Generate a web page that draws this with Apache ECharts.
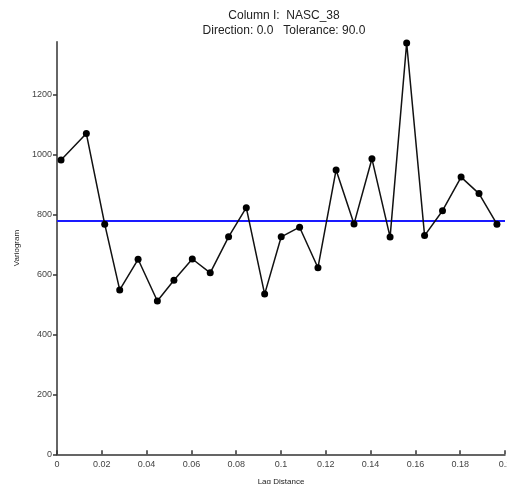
<!DOCTYPE html>
<html>
<head>
<meta charset="utf-8">
<script src="https://cdn.jsdelivr.net/npm/echarts@6/dist/echarts.min.js"></script>
<style>
  html, body { margin: 0; padding: 0; background: #fff; }
  #chart { width: 507px; height: 484px; }
</style>
</head>
<body>
<div id="chart"></div>
<script>
// Experimental variogram for NASC_38 (omnidirectional)
const lagDistance = [0.0018, 0.0131, 0.0213, 0.0280, 0.0362, 0.0448, 0.0522, 0.0604, 0.0684,
  0.0766, 0.0845, 0.0927, 0.1001, 0.1083, 0.1165, 0.1246, 0.1326, 0.1406, 0.1487, 0.1561,
  0.1641, 0.1721, 0.1804, 0.1884, 0.1964];
const variogram = [981, 1069, 767, 548, 650, 511, 580, 651, 605,
  725, 822, 534, 725, 757, 622, 948, 768, 985, 724, 1371,
  729, 812, 924, 869, 767];
const sill = 777;
const yTicks = [0, 200, 400, 600, 800, 1000, 1200];

const points = lagDistance.map((d, i) => [d, variogram[i]]);

const chart = echarts.init(document.getElementById('chart'), null, { renderer: 'canvas' });
chart.setOption({
  animation: false,
  backgroundColor: '#ffffff',
  title: {
    text: 'Column I:  NASC_38\nDirection: 0.0   Tolerance: 90.0',
    left: 279,
    top: 3,
    textAlign: 'center',
    textStyle: {
      fontFamily: 'Liberation Sans',
      fontSize: 12,
      fontWeight: 'normal',
      color: '#222',
      lineHeight: 15
    }
  },
  grid: { left: 57, right: 2, top: 41.8, bottom: 29.7, containLabel: false, outerBoundsMode: 'none' },
  xAxis: {
    type: 'value',
    min: 0,
    max: 0.2,
    interval: 0.02,
    name: 'Lag Distance',
    nameLocation: 'middle',
    nameGap: 23,
    nameTextStyle: { fontFamily: 'Liberation Sans', fontSize: 8, color: '#222' },
    splitLine: { show: false },
    axisLine: { show: true, lineStyle: { color: '#333', width: 1.5 } },
    axisTick: { show: true, inside: true, length: 4, lineStyle: { color: '#333', width: 1.5 } },
    axisLabel: {
      fontFamily: 'Liberation Sans', fontSize: 9, color: '#444', margin: 6,
      showMaxLabel: true,
      formatter: v => String(+v.toFixed(2))
    }
  },
  yAxis: {
    type: 'value',
    min: 0,
    max: 1375,
    name: 'Variogram',
    nameLocation: 'middle',
    nameGap: 36,
    nameRotate: 90,
    nameTextStyle: { fontFamily: 'Liberation Sans', fontSize: 8, color: '#222' },
    splitLine: { show: false },
    axisLine: { show: true, lineStyle: { color: '#333', width: 1.5 } },
    axisTick: { show: true, inside: false, length: 4, customValues: yTicks, lineStyle: { color: '#333', width: 1.5 } },
    axisLabel: {
      fontFamily: 'Liberation Sans', fontSize: 9, color: '#444', margin: 5,
      customValues: yTicks,
      formatter: v => String(v)
    }
  },
  series: [
    {
      type: 'line',
      data: points,
      symbol: 'circle',
      symbolSize: 7,
      itemStyle: { color: '#000' },
      lineStyle: { color: '#111', width: 1.5 },
      z: 3,
      markLine: {
        silent: true,
        symbol: 'none',
        label: { show: false },
        lineStyle: { color: '#1a1aff', width: 2, type: 'solid' },
        data: [{ yAxis: sill }],
        z: 2
      }
    }
  ]
});
</script>
</body>
</html>
